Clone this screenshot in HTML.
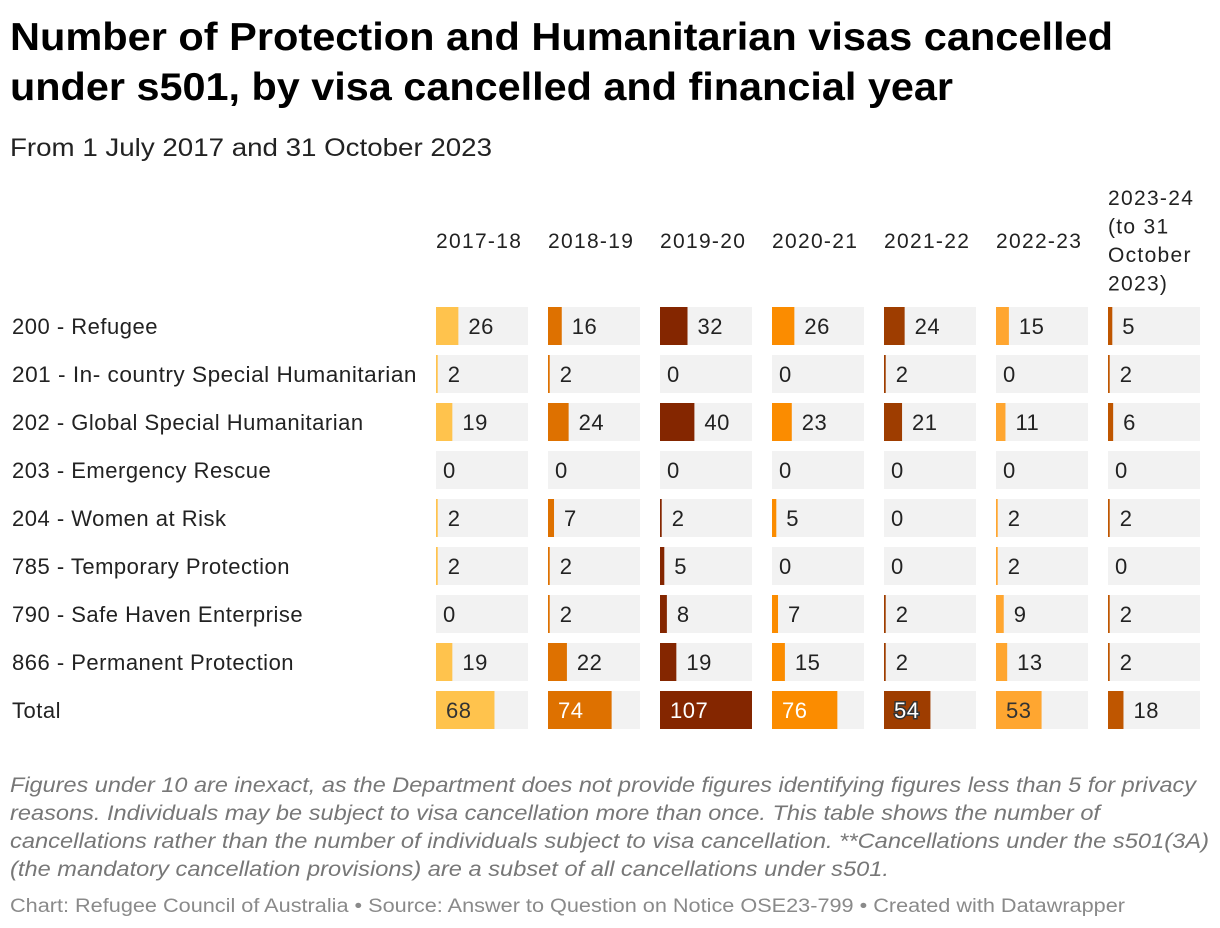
<!DOCTYPE html>
<html><head><meta charset="utf-8"><style>
html,body{margin:0;padding:0;background:#fff;}
svg{display:block;font-family:"Liberation Sans",sans-serif;}
</style></head><body>
<svg id="chart" width="1220" height="928" xmlns="http://www.w3.org/2000/svg">
<text x="10" y="50" font-size="39" font-weight="bold" fill="#000" textLength="1103" lengthAdjust="spacingAndGlyphs">Number of Protection and Humanitarian visas cancelled</text>
<text x="10" y="100" font-size="39" font-weight="bold" fill="#000" textLength="943" lengthAdjust="spacingAndGlyphs">under s501, by visa cancelled and financial year</text>
<text x="10" y="156" font-size="25" fill="#222" textLength="482" lengthAdjust="spacingAndGlyphs">From 1 July 2017 and 31 October 2023</text>
<g id="table"></g>
<g font-size="21" font-style="italic" fill="#777">
<text x="10" y="792" textLength="1186" lengthAdjust="spacingAndGlyphs">Figures under 10 are inexact, as the Department does not provide figures identifying figures less than 5 for privacy</text>
<text x="10" y="820" textLength="1090" lengthAdjust="spacingAndGlyphs">reasons. Individuals may be subject to visa cancellation more than once. This table shows the number of</text>
<text x="10" y="848" textLength="1199" lengthAdjust="spacingAndGlyphs">cancellations rather than the number of individuals subject to visa cancellation. **Cancellations under the s501(3A)</text>
<text x="10" y="876" textLength="879" lengthAdjust="spacingAndGlyphs">(the mandatory cancellation provisions) are a subset of all cancellations under s501.</text>
</g>
<text x="10" y="912" font-size="19" fill="#8a8a8a" textLength="1115" lengthAdjust="spacingAndGlyphs">Chart: Refugee Council of Australia • Source: Answer to Question on Notice OSE23-799 • Created with Datawrapper</text>
</svg>
<script>
const years = ["2017-18","2018-19","2019-20","2020-21","2021-22","2022-23","2023-24"];
const rowLabels = ["200 - Refugee","201 - In- country Special Humanitarian","202 - Global Special Humanitarian","203 - Emergency Rescue","204 - Women at Risk","785 - Temporary Protection","790 - Safe Haven Enterprise","866 - Permanent Protection","Total"];
const v2017 = [26,2,19,0,2,2,0,19,68];
const v2018 = [16,2,24,0,7,2,2,22,74];
const v2019 = [32,0,40,0,2,5,8,19,107];
const v2020 = [26,0,23,0,5,0,7,15,76];
const v2021 = [24,2,21,0,0,0,2,2,54];
const v2022 = [15,0,11,0,2,2,9,13,53];
const v2023 = [5,2,6,0,2,0,2,2,18];
const series = [v2017,v2018,v2019,v2020,v2021,v2022,v2023];
const colors = ["#ffc34d","#de7100","#842600","#fb8c00","#9e3d00","#ffa630","#bf5600"];
const light = [true,false,false,false,false,true,false];
const NS="http://www.w3.org/2000/svg";
const g=document.getElementById('table');
const colX=i=>436+i*112, colW=92, rowY=r=>307+r*48, cellH=38;
const maxV=Math.max(...series.flat());
const xs=v=>v/maxV*colW;
function mk(t,a,txt){const e=document.createElementNS(NS,t);for(const k in a)e.setAttribute(k,a[k]);if(txt!==undefined)e.textContent=txt;g.appendChild(e);return e;}
years.forEach((y,i)=>{
  if(i<6){const t=mk('text',{x:colX(i),y:248,'font-size':21,fill:'#222','letter-spacing':'1.3'},y);
    
    }
  else{["2023-24","(to 31","October","2023)"].forEach((s,k)=>{const t=mk('text',{x:colX(i),y:205+k*28.5,'font-size':21,fill:'#222','letter-spacing':'1.3'},s);
    
    });}
});
rowLabels.forEach((l,r)=>{
  const t=mk('text',{x:12,y:rowY(r)+27,'font-size':22,fill:'#222','letter-spacing':'0.5'},l);
  
  
  if(r===1){t.setAttribute('textLength','405');t.setAttribute('lengthAdjust','spacingAndGlyphs');}
  series.forEach((s,i)=>{
    const v=s[r];
    const bg=mk('rect',{x:colX(i),y:rowY(r),width:colW,height:cellH,fill:'#f2f2f2'});
    
    
    const w=xs(v);
    const b=mk('rect',{x:colX(i),y:rowY(r),width:w,height:cellH,fill:colors[i]});
    
    
    const inside = w>40;
    const tx = inside ? colX(i)+10 : colX(i)+w+(v===0?7:10);
    const fill = inside ? (light[i]?'#333':'#fff') : '#222';
    const t2=mk('text',{x:tx,y:rowY(r)+27,'font-size':22,fill:fill,'letter-spacing':'0.5'},String(v));
    if(inside && i===4){t2.setAttribute('stroke','#333');t2.setAttribute('stroke-width','3');t2.setAttribute('paint-order','stroke');}
    
    
  });
});
</script>
</body></html>
